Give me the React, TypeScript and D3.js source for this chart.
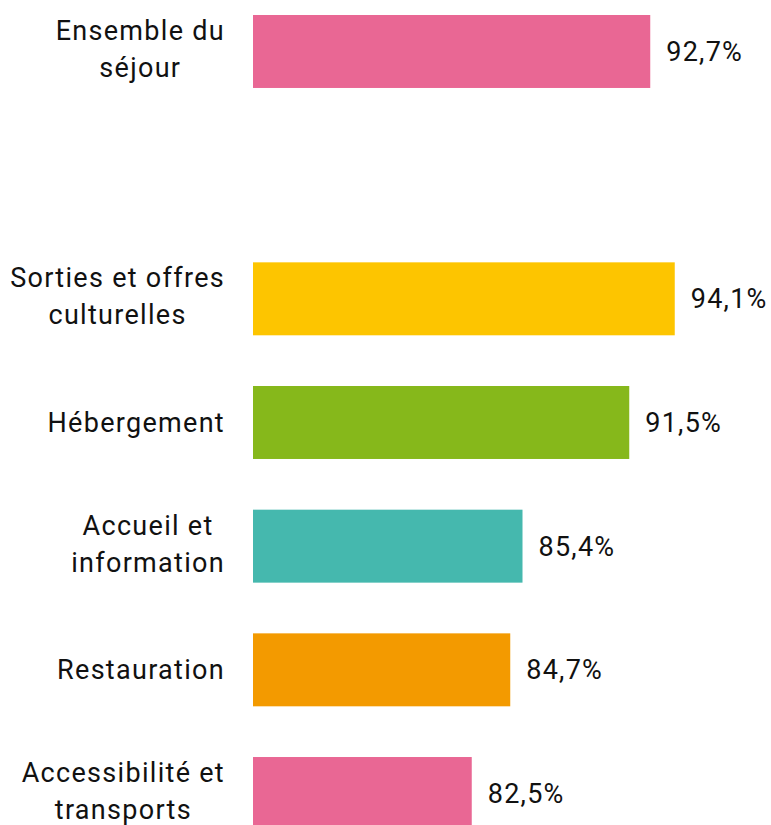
import React from "react";
import * as d3 from "d3";

const categories: string[][] = [
  ["Ensemble du", "séjour"],
  [],
  ["Sorties et offres", "culturelles"],
  ["Hébergement"],
  ["Accueil et", "information"],
  ["Restauration"],
  ["Accessibilité et", "transports"],
];
const values: (number | null)[] = [92.7, null, 94.1, 91.5, 85.4, 84.7, 82.5];
const colors: string[] = ["#E96794", "", "#FDC500", "#86B81B", "#45B8AE", "#F39A00", "#E96794"];
const valueLabels: string[] = ["92,7%", "", "94,1%", "91,5%", "85,4%", "84,7%", "82,5%"];

const W = 771;
const H = 825;
const FONT = "Roboto, 'DejaVu Sans', sans-serif";
const FS = 27;
const LS = 1.3;

let ctx: CanvasRenderingContext2D | null = null;
function measure(s: string): number {
  if (!ctx) {
    const c = document.createElement("canvas");
    ctx = c.getContext("2d");
  }
  if (!ctx) return s.length * FS * 0.5;
  ctx.font = `${FS}px Roboto, 'DejaVu Sans', sans-serif`;
  return ctx.measureText(s).width + LS * s.length;
}

export default function App() {
  const x = d3.scaleLinear().domain([70, 100]).range([253, 253 + 30 * 17.5]);
  const step = 123.67;
  const po = 0.205;
  const y = d3
    .scaleBand<number>()
    .domain(d3.range(categories.length))
    .range([15 - po * step, 15 - po * step + 7 * step])
    .paddingInner(0.41)
    .paddingOuter(po);
  const bw = y.bandwidth();
  const lineGap = 37;
  const R = 225;

  return (
    <svg
      width={W}
      height={H}
      style={{ position: "absolute", left: 0, top: 0, display: "block" }}
      fontFamily={FONT}
    >
      <rect width={W} height={H} fill="#fff" />
      {values.map((v, i) => {
        if (v == null) return null;
        const y0 = y(i)!;
        const c = y0 + bw / 2;
        const lines = categories[i];
        const n = lines.length;
        const maxW = d3.max(lines, measure) ?? 0;
        const cx = R - maxW / 2;
        return (
          <g key={i}>
            <rect x={x(70)} y={y0} width={x(v) - x(70)} height={bw} fill={colors[i]} />
            {lines.map((ln, k) => (
              <text
                key={k}
                x={cx}
                y={c + (n > 1 ? 7 : 9.5) + (k - (n - 1) / 2) * lineGap}
                textAnchor="middle"
                fontSize={FS}
                letterSpacing={LS}
                fill="#111"
              >
                {ln}
              </text>
            ))}
            <text x={x(v) + 16} y={c + 9.5} fontSize={FS} letterSpacing={1.25} fill="#111">
              {valueLabels[i]}
            </text>
          </g>
        );
      })}
    </svg>
  );
}
